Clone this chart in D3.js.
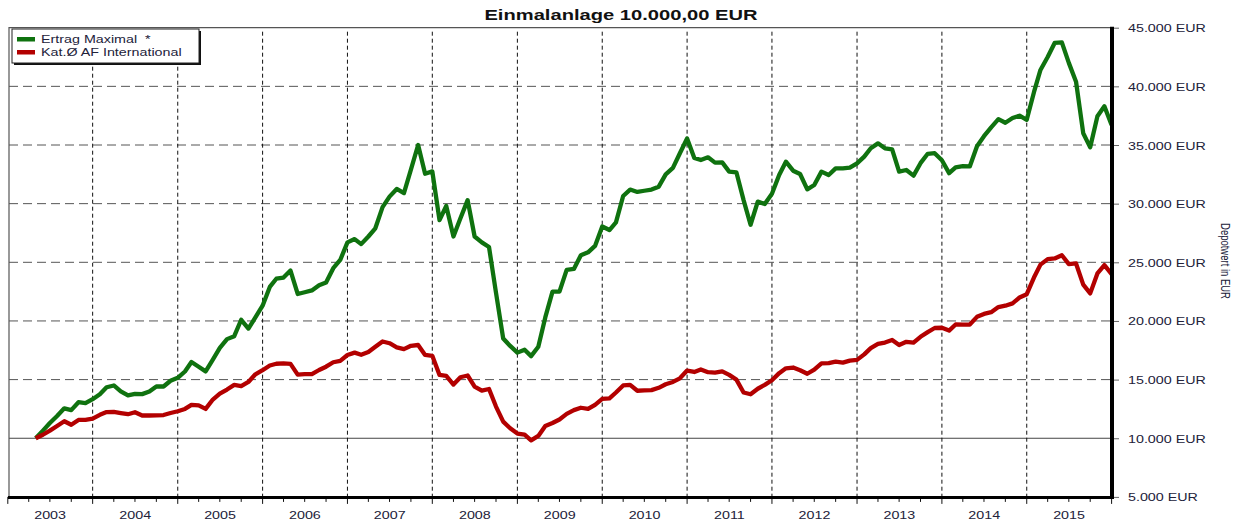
<!DOCTYPE html>
<html>
<head>
<meta charset="utf-8">
<script src="https://cdn.jsdelivr.net/npm/d3@7"></script>
<style>
  body { margin: 0; background: #fff; }
  text { font-family: "Liberation Sans", Arial, sans-serif; white-space: pre; }
</style>
</head>
<body>
<script>
// monthly values, first value = start of May 2003, one per month
var startMonth = new Date(2003, 4, 1);

var ertragMaximal = [
  10000, 10650, 11300, 11900, 12550, 12400, 13070, 12990, 13330, 13750, 14350, 14500,
  14000, 13650, 13780, 13760, 13980, 14410, 14410, 14900, 15150, 15690, 16500, 16100,
  15700, 16700, 17700, 18450, 18700, 20100, 19350, 20300, 21300, 22900, 23600, 23700,
  24300, 22300, 22450, 22600, 23050, 23280, 24500, 25200, 26700, 26980, 26550, 27200,
  27900, 29700, 30600, 31250, 30900, 32900, 35000, 32550, 32750, 28600, 29800, 27200,
  28750, 30300, 27200, 26700, 26300, 22400, 18500, 17870, 17300, 17550, 17000, 17800,
  20300, 22500, 22500, 24350, 24430, 25600, 25850, 26400, 28050, 27750, 28400, 30650,
  31200, 31000, 31100, 31200, 31450, 32500, 33050, 34300, 35550, 33900, 33720, 33950,
  33500, 33520, 32730, 32670, 30300, 28200, 30170, 29970, 30850, 32450, 33580, 32810,
  32530, 31220, 31590, 32730, 32440, 33010, 33010, 33070, 33440, 34010, 34720, 35140,
  34720, 34630, 32730, 32870, 32390, 33450, 34250, 34300, 33700, 32600, 33100, 33200,
  33170, 34900, 35750, 36500, 37200, 36900, 37300, 37500, 37150, 39500, 41400, 42500,
  43700, 43750, 42000, 40400, 36000, 34800, 37450, 38300, 36700
];

var katAfInternational = [
  10000, 10300, 10650, 11050, 11450, 11150, 11560, 11570, 11680, 12000, 12230, 12250,
  12150, 12050, 12220, 11940, 11940, 11950, 11980, 12150, 12300, 12500, 12850, 12800,
  12500, 13300, 13800, 14150, 14550, 14450, 14800, 15450, 15800, 16200, 16350, 16390,
  16340, 15420, 15460, 15460, 15820, 16100, 16480, 16600, 17100, 17300, 17120, 17350,
  17800, 18250, 18100, 17750, 17600, 17880, 17950, 17100, 17030, 15400, 15320, 14580,
  15200, 15350, 14400, 14060, 14200, 12700, 11420, 10850, 10400, 10300, 9820, 10200,
  11050, 11300, 11600, 12080, 12400, 12600, 12500, 12850, 13350, 13400, 13900, 14500,
  14550, 14050, 14080, 14100, 14300, 14600, 14800, 15110, 15770, 15650, 15870, 15630,
  15600, 15700, 15400, 15000, 13900, 13750, 14220, 14550, 14950, 15550, 15960, 16030,
  15800, 15500, 15850, 16390, 16400, 16530, 16450, 16620, 16680, 17150, 17680, 18040,
  18160, 18380, 17950, 18220, 18150, 18650, 19050, 19400, 19420, 19180, 19700, 19680,
  19690, 20350, 20600, 20750, 21180, 21300, 21500, 22000, 22280, 23700, 24800, 25270,
  25330, 25600, 24850, 24900, 23100, 22350, 24050, 24760, 24000
];

var seriesNames = ["Ertrag Maximal  *", "Kat.\u00D8 AF International"];
var seriesColors = ["#0f720f", "#b30000"];
var years = d3.range(2003, 2016);
var yTicks = d3.range(5000, 45001, 5000);
var gridValues = d3.range(15000, 40001, 5000);

var width = 1240, height = 525;
var stretch = 1.3;   // the original text is drawn wide
var frame = {left: 9, right: 1112, top: 27.7, bottom: 496.9};

var x = d3.scaleTime()
    .domain([new Date(2003, 0, 1), new Date(2016, 0, 1)])
    .range([7.8, 1111.6]);
var y = d3.scaleLinear()
    .domain([5000, 45000])
    .range([frame.bottom, frame.top]);

var de = d3.formatLocale({decimal: ",", thousands: ".", grouping: [3], currency: ["", " EUR"]});
var fmt = de.format(",");

var series = [ertragMaximal, katAfInternational].map(function(vals, k) {
  return {
    name: seriesNames[k],
    color: seriesColors[k],
    values: vals.map(function(v, i) { return {date: d3.timeMonth.offset(startMonth, i), value: v}; })
  };
});

var svg = d3.select("body").append("svg")
    .attr("width", width).attr("height", height)
    .style("background", "#fff");

function wideText(g, px, py, str) {
  return g.append("text")
      .attr("transform", "translate(" + px + "," + py + ") scale(" + stretch + ",1)")
      .text(str);
}

// title
wideText(svg, 621, 20, "Einmalanlage 10.000,00 EUR")
    .attr("text-anchor", "middle")
    .style("font-size", "15.5px").style("font-weight", "bold").attr("fill", "#111");

// horizontal grid
svg.append("g").selectAll("line").data(gridValues).enter().append("line")
    .attr("x1", frame.left).attr("x2", frame.right)
    .attr("y1", function(d){ return y(d); }).attr("y2", function(d){ return y(d); })
    .attr("stroke", "#555").attr("stroke-width", 1).attr("stroke-dasharray", "9,5");

// 10.000 baseline
svg.append("line")
    .attr("x1", frame.left).attr("x2", frame.right)
    .attr("y1", y(10000)).attr("y2", y(10000))
    .attr("stroke", "#444").attr("stroke-width", 1);

// vertical year grid
var yearStarts = years.slice(1).map(function(yr){ return new Date(yr, 0, 1); });
svg.append("g").selectAll("line").data(yearStarts).enter().append("line")
    .attr("x1", function(d){ return x(d); }).attr("x2", function(d){ return x(d); })
    .attr("y1", frame.top + 4).attr("y2", frame.bottom)
    .attr("stroke", "#111").attr("stroke-width", 1).attr("stroke-dasharray", "4,3");

// frame top + left
svg.append("path")
    .attr("d", "M" + frame.left + "," + frame.bottom + "V" + frame.top + "H" + frame.right)
    .attr("fill", "none").attr("stroke", "#555").attr("stroke-width", 1.2);

// lines
var line = d3.line()
    .x(function(d){ return x(d.date); })
    .y(function(d){ return y(d.value); });

svg.append("g").selectAll("path").data(series).enter().append("path")
    .attr("d", function(d){ return line(d.values); })
    .attr("fill", "none")
    .attr("stroke", function(d){ return d.color; })
    .attr("stroke-width", 4.3)
    .attr("stroke-linejoin", "round");

// bottom axis
var quarters = d3.timeMonth.every(3).range(new Date(2003, 0, 1), new Date(2016, 0, 2));
svg.append("g").selectAll("line").data(quarters).enter().append("line")
    .attr("x1", function(d){ return x(d); }).attr("x2", function(d){ return x(d); })
    .attr("y1", frame.bottom)
    .attr("y2", function(d){ return frame.bottom + (d.getMonth() === 0 ? 7 : 5); })
    .attr("stroke", "#111").attr("stroke-width", 1);
svg.append("line")
    .attr("x1", frame.left - 1).attr("x2", frame.right + 2)
    .attr("y1", frame.bottom + 0.5).attr("y2", frame.bottom + 0.5)
    .attr("stroke", "#000").attr("stroke-width", 3);

var xLabels = svg.append("g");
years.forEach(function(yr) {
  wideText(xLabels, x(new Date(yr, 6, 2)), 519, String(yr))
      .attr("text-anchor", "middle")
      .style("font-size", "11px").attr("fill", "#22223a");
});

// right axis
svg.append("line")
    .attr("x1", frame.right).attr("x2", frame.right)
    .attr("y1", frame.top - 1).attr("y2", frame.bottom + 2)
    .attr("stroke", "#000").attr("stroke-width", 4);

var yAxis = d3.axisRight(y).tickValues(yTicks).tickSize(5).tickFormat(function(d){ return fmt(d) + " EUR"; });
var yAxisG = svg.append("g")
    .attr("transform", "translate(" + (frame.right + 2) + ",0)")
    .call(yAxis);
yAxisG.select(".domain").remove();
yAxisG.selectAll(".tick line").attr("stroke", "#666");
yAxisG.selectAll(".tick text")
    .attr("x", null).attr("dy", null)
    .attr("transform", "translate(14,4) scale(" + stretch + ",1)")
    .style("font-size", "11px").style("font-family", "'Liberation Sans', Arial, sans-serif")
    .attr("fill", "#22223a");

svg.append("text")
    .attr("transform", "translate(1221,261) scale(" + stretch + ",1) rotate(90)")
    .attr("text-anchor", "middle")
    .style("font-size", "9.5px").attr("fill", "#22223a")
    .text("Depotwert in EUR");

// legend
var legend = svg.append("g").attr("transform", "translate(12,29)");
legend.append("rect").attr("x", 2).attr("y", 2).attr("width", 187).attr("height", 34).attr("fill", "#111");
legend.append("rect").attr("width", 187).attr("height", 34).attr("fill", "#fff").attr("stroke", "#222").attr("stroke-width", 1);
series.forEach(function(s, i) {
  legend.append("rect")
      .attr("x", 5).attr("y", 8 + i * 13)
      .attr("width", 18).attr("height", 4.5)
      .attr("fill", s.color);
  wideText(legend, 29, 14 + i * 13, s.name)
      .style("font-size", "11px").attr("fill", "#22223a");
});
</script>
</body>
</html>
